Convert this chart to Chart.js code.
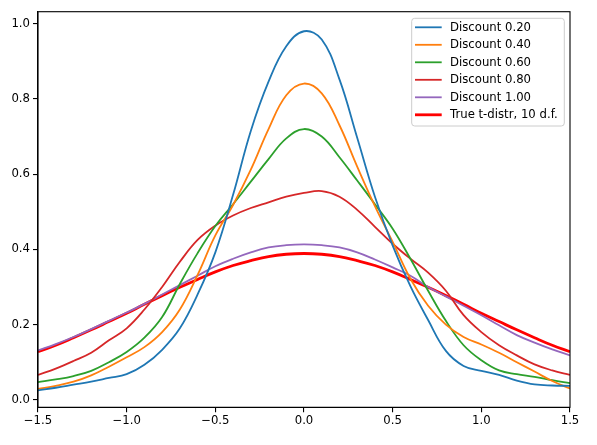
<!DOCTYPE html>
<html>
<head>
<meta charset="utf-8">
<script src="https://cdn.jsdelivr.net/npm/chart.js@4.4.0/dist/chart.umd.min.js"></script>
<style>
  html, body { margin: 0; padding: 0; background: #fff; }
  canvas { display: block; }
</style>
</head>
<body>
<canvas id="kdeChart" width="597" height="445"></canvas>
<script>
// x grid shared by all curves
var xs = [-1.5,-1.4,-1.3,-1.2,-1.1,-1.0,-0.9,-0.8,-0.7,-0.6,-0.5,-0.4,-0.3,-0.2,-0.1,0.0,
          0.1,0.2,0.3,0.4,0.5,0.6,0.7,0.8,0.9,1.0,1.1,1.2,1.3,1.4,1.5];

var disc020 = [0.025,0.032,0.040,0.048,0.058,0.068,0.093,0.133,0.190,0.280,0.392,0.545,0.715,0.846,0.940,0.980,
               0.958,0.852,0.697,0.540,0.410,0.302,0.212,0.130,0.090,0.077,0.066,0.051,0.041,0.038,0.037];
var disc040 = [0.029,0.037,0.048,0.065,0.088,0.113,0.140,0.180,0.240,0.332,0.437,0.518,0.612,0.720,0.810,0.841,
               0.815,0.730,0.620,0.515,0.420,0.322,0.250,0.200,0.167,0.147,0.125,0.100,0.075,0.050,0.030];
var disc060 = [0.047,0.054,0.063,0.077,0.100,0.127,0.165,0.220,0.308,0.390,0.462,0.520,0.580,0.640,0.695,0.720,
               0.700,0.645,0.583,0.520,0.455,0.375,0.290,0.210,0.145,0.105,0.078,0.068,0.061,0.052,0.044];
var disc080 = [0.066,0.083,0.103,0.125,0.158,0.190,0.240,0.300,0.367,0.425,0.463,0.490,0.510,0.525,0.540,0.550,
               0.555,0.540,0.505,0.460,0.415,0.375,0.338,0.290,0.225,0.180,0.145,0.118,0.094,0.078,0.066];
var disc100 = [0.131,0.148,0.167,0.188,0.210,0.232,0.255,0.280,0.305,0.330,0.355,0.375,0.392,0.405,0.411,0.413,
               0.411,0.405,0.392,0.373,0.352,0.330,0.300,0.275,0.250,0.225,0.198,0.172,0.152,0.134,0.118];
var tdist10 = [0.128,0.145,0.165,0.186,0.208,0.230,0.254,0.277,0.299,0.320,0.340,0.357,0.370,0.381,0.387,0.389,
               0.387,0.381,0.370,0.357,0.340,0.320,0.299,0.277,0.254,0.230,0.208,0.186,0.165,0.145,0.128];

var seriesNames = ["Discount 0.20", "Discount 0.40", "Discount 0.60", "Discount 0.80", "Discount 1.00", "True t-distr, 10 d.f."];
var seriesValues = [disc020, disc040, disc060, disc080, disc100, tdist10];
var seriesColors = ["#1f77b4", "#ff7f0e", "#2ca02c", "#d62728", "#9467bd", "#ff0000"];
var seriesWidths = [1.8, 1.8, 1.8, 1.8, 1.8, 2.8];

var xTicks = [-1.5, -1.0, -0.5, 0.0, 0.5, 1.0, 1.5];
var yTicks = [0.0, 0.2, 0.4, 0.6, 0.8, 1.0];

var FONT = "DejaVu Sans";
var FSIZE = 11.7;

function fmt(v) {
  var s = Math.abs(v).toFixed(1);
  return v < -1e-9 ? "\u2212" + s : s;
}

function toPoints(vals) {
  return xs.map(function (x, i) { return { x: x, y: vals[i] }; });
}

var datasets = seriesNames.map(function (name, i) {
  return {
    label: name,
    data: toPoints(seriesValues[i]),
    borderColor: seriesColors[i],
    backgroundColor: seriesColors[i],
    borderWidth: seriesWidths[i],
    pointRadius: 0,
    fill: false,
    tension: 0.4
  };
});

// matplotlib style frame + legend inside the axes
var framePlugin = {
  id: "frameAndLegend",
  afterDraw: function (chart) {
    var c = chart.ctx, a = chart.chartArea;
    c.save();
    c.strokeStyle = "#000";
    c.lineWidth = 1.1;
    c.strokeRect(a.left, a.top, a.right - a.left, a.bottom - a.top);

    var bw = 152.6, bh = 107.7;
    var bx = a.right - 5.7 - bw, by = a.top + 6.6;
    c.fillStyle = "rgba(255,255,255,0.8)";
    c.strokeStyle = "#cccccc";
    c.lineWidth = 1;
    c.beginPath();
    c.roundRect(bx, by, bw, bh, 3);
    c.fill();
    c.stroke();

    c.font = FSIZE + "px '" + FONT + "'";
    c.textBaseline = "middle";
    c.textAlign = "left";
    seriesNames.forEach(function (name, i) {
      var yy = by + 9 + i * 17.5;
      c.strokeStyle = seriesColors[i];
      c.lineWidth = seriesWidths[i];
      c.beginPath();
      c.moveTo(bx + 3.3, yy);
      c.lineTo(bx + 30, yy);
      c.stroke();
      c.fillStyle = "#000";
      c.fillText(name, bx + 38.3, yy + 0.5);
    });
    c.restore();
  }
};

var ctx = document.getElementById("kdeChart").getContext("2d");
var myChart = new Chart(ctx, {
  type: "line",
  data: { datasets: datasets },
  options: {
    responsive: false,
    animation: false,
    devicePixelRatio: 1,
    layout: { padding: { left: 0, top: 11.7, right: 27, bottom: 0 } },
    plugins: { legend: { display: false }, tooltip: { enabled: false } },
    scales: {
      x: {
        type: "linear",
        min: -1.5,
        max: 1.5,
        afterBuildTicks: function (s) { s.ticks = xTicks.map(function (v) { return { value: v }; }); },
        afterFit: function (s) { s.height = 37.7; },
        grid: { drawOnChartArea: false, drawTicks: true, tickLength: 5, color: "#000", lineWidth: 1.1 },
        border: { display: true, color: "#000", width: 1.1 },
        ticks: {
          color: "#000",
          padding: 2,
          maxRotation: 0,
          font: { family: FONT, size: FSIZE },
          callback: function (v) { return fmt(v); }
        }
      },
      y: {
        type: "linear",
        min: -0.02,
        max: 1.032,
        afterBuildTicks: function (s) { s.ticks = yTicks.map(function (v) { return { value: v }; }); },
        afterFit: function (s) { s.width = 38; },
        grid: { drawOnChartArea: false, drawTicks: true, tickLength: 5, color: "#000", lineWidth: 1.1 },
        border: { display: true, color: "#000", width: 1.1 },
        ticks: {
          color: "#000",
          padding: 3,
          font: { family: FONT, size: FSIZE },
          callback: function (v) { return fmt(v); }
        }
      }
    }
  },
  plugins: [framePlugin]
});
</script>
</body>
</html>
